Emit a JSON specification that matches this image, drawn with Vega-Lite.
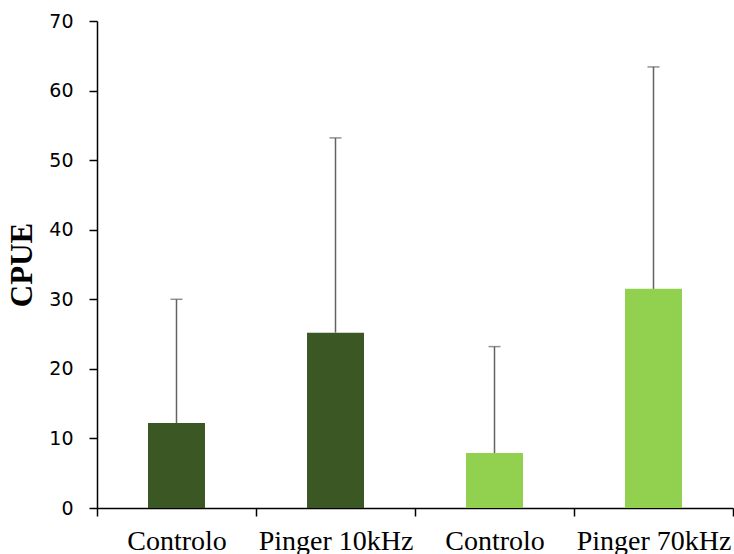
{
  "$schema": "https://vega.github.io/schema/vega-lite/v6.json",
  "width": 636,
  "height": 487,
  "autosize": {"type": "none"},
  "padding": {"left": 97, "top": 21, "right": 1, "bottom": 46},
  "background": "white",
  "data": {
    "values": [
      {"id": "a", "grupo": "Controlo", "serie": "10kHz", "cpue": 12.2, "sup": 30.0},
      {"id": "b", "grupo": "Pinger 10kHz", "serie": "10kHz", "cpue": 25.2, "sup": 53.2},
      {"id": "c", "grupo": "Controlo", "serie": "70kHz", "cpue": 7.9, "sup": 23.2},
      {"id": "d", "grupo": "Pinger 70kHz", "serie": "70kHz", "cpue": 31.5, "sup": 63.4}
    ]
  },
  "config": {
    "view": {"stroke": null},
    "axis": {"grid": false, "domainColor": "black", "tickColor": "black", "domainWidth": 1.5, "tickWidth": 1.5}
  },
  "encoding": {
    "x": {
      "field": "id",
      "type": "nominal",
      "sort": ["a", "b", "c", "d"],
      "scale": {"paddingInner": 0, "paddingOuter": 0},
      "axis": {
        "title": null,
        "labelAngle": 0,
        "labelExpr": "datum.value == 'a' || datum.value == 'c' ? 'Controlo' : (datum.value == 'b' ? 'Pinger 10kHz' : (datum.value == 'd' ? 'Pinger 70kHz' : ''))",
        "labelFont": "Liberation Serif",
        "labelFontSize": 28,
        "labelColor": "black",
        "labelPadding": 11,
        "labelOverlap": false,
        "tickBand": "extent",
        "tickSize": 8
      }
    }
  },
  "layer": [
    {
      "mark": {"type": "bar", "width": 57},
      "encoding": {
        "y": {
          "field": "cpue",
          "type": "quantitative",
          "scale": {"domain": [0, 70], "nice": false},
          "axis": {
            "values": [0, 10, 20, 30, 40, 50, 60, 70],
            "title": "CPUE",
            "titleFont": "Liberation Serif",
            "titleFontSize": 31,
            "titleFontWeight": "bold",
            "titleColor": "black",
            "titlePadding": 10,
            "labelFont": "DejaVu Sans",
            "labelFontSize": 19,
            "labelColor": "black",
            "labelPadding": 16,
            "tickSize": 8
          }
        },
        "color": {
          "field": "serie",
          "type": "nominal",
          "scale": {"domain": ["10kHz", "70kHz"], "range": ["#3A5724", "#92D050"]},
          "legend": null
        }
      }
    },
    {
      "mark": {"type": "rule", "color": "#636363", "strokeWidth": 1.5},
      "encoding": {
        "y": {"field": "cpue", "type": "quantitative"},
        "y2": {"field": "sup"}
      }
    },
    {
      "mark": {"type": "tick", "color": "#636363", "thickness": 1.5, "size": 12},
      "encoding": {
        "y": {"field": "sup", "type": "quantitative"}
      }
    }
  ]
}
